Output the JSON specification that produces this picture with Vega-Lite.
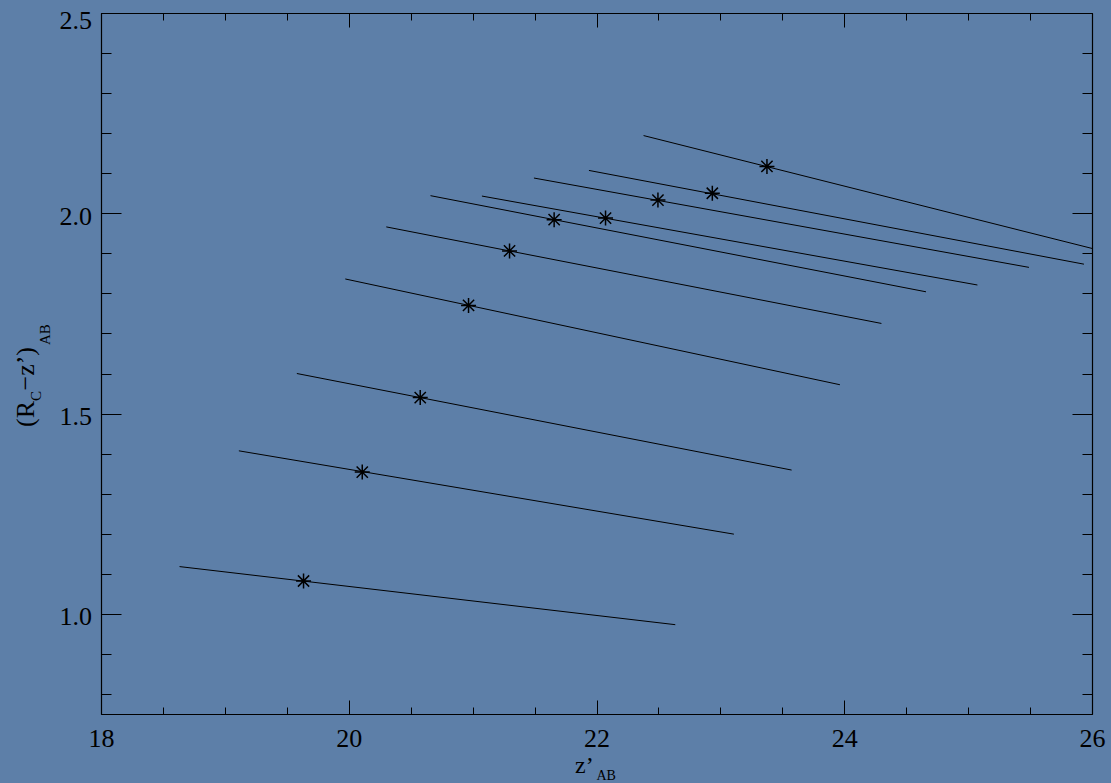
{
  "$schema": "https://vega.github.io/schema/vega-lite/v6.json",
  "autosize": "none",
  "width": 991,
  "height": 701,
  "padding": {"left": 101, "top": 13, "right": 19, "bottom": 69},
  "background": "#5d7fa8",
  "config": {
    "view": {"stroke": null},
    "axis": {
      "grid": false,
      "labelFont": "Liberation Serif",
      "titleFont": "Liberation Serif",
      "labelColor": "black",
      "titleColor": "black",
      "tickColor": "black",
      "domainColor": "black",
      "tickWidth": 1,
      "domainWidth": 1.2,
      "titleFontWeight": "normal"
    }
  },
  "data": {
    "values": [
      {"x0": 22.380, "y0": 2.194, "x1": 26.376, "y1": 1.883, "xs": 23.376, "ys": 2.117},
      {"x0": 21.939, "y0": 2.107, "x1": 25.935, "y1": 1.873, "xs": 22.935, "ys": 2.050},
      {"x0": 21.495, "y0": 2.088, "x1": 25.491, "y1": 1.865, "xs": 22.496, "ys": 2.033},
      {"x0": 21.075, "y0": 2.043, "x1": 25.075, "y1": 1.821, "xs": 22.073, "ys": 1.988},
      {"x0": 20.660, "y0": 2.044, "x1": 24.660, "y1": 1.804, "xs": 21.658, "ys": 1.984},
      {"x0": 20.303, "y0": 1.966, "x1": 24.300, "y1": 1.725, "xs": 21.298, "ys": 1.906},
      {"x0": 19.972, "y0": 1.836, "x1": 23.965, "y1": 1.572, "xs": 20.967, "ys": 1.770},
      {"x0": 19.581, "y0": 1.600, "x1": 23.575, "y1": 1.359, "xs": 20.577, "ys": 1.540},
      {"x0": 19.113, "y0": 1.407, "x1": 23.109, "y1": 1.199, "xs": 20.109, "ys": 1.354},
      {"x0": 18.634, "y0": 1.118, "x1": 22.636, "y1": 0.973, "xs": 19.635, "ys": 1.082}
    ]
  },
  "resolve": {"axis": {"x": "independent", "y": "independent"}},
  "layer": [
    {
      "mark": {"type": "rule", "color": "black", "strokeWidth": 1, "clip": true},
      "encoding": {
        "x": {"field": "x0", "type": "quantitative",
          "scale": {"domain": [18, 26], "nice": false, "zero": false},
          "axis": {"orient": "bottom", "values": [18, 20, 22, 24, 26], "tickSize": -14, "labelPadding": 25.5,
            "labelFontSize": 26, "labelFlush": false, "labelOverlap": false, "domain": true,
            "title": "z’", "titleFontSize": 24, "titleX": 473.5, "titleY": 58.5, "titleAngle": 0,
            "titleAlign": "left", "titleBaseline": "alphabetic"}},
        "x2": {"field": "x1"},
        "y": {"field": "y0", "type": "quantitative",
          "scale": {"domain": [0.75, 2.5], "nice": false, "zero": false},
          "axis": {"orient": "left", "values": [1, 1.5, 2, 2.5], "format": ".1f", "tickSize": -20, "labelPadding": 29.5,
            "labelFontSize": 26, "labelOffset": {"condition": {"test": "datum.value >= 2.4", "value": 7}, "value": 3},
            "labelFlush": false, "labelOverlap": false, "domain": true,
            "title": "(R", "titleFontSize": 26, "titleX": -68, "titleY": 413.5, "titleAngle": -90,
            "titleAlign": "left", "titleBaseline": "alphabetic"}},
        "y2": {"field": "y1"}
      }
    },
    {
      "mark": {"type": "point", "shape": "M0,-1L0,1M-1,0L1,0M-0.75,-0.75L0.75,0.75M-0.75,0.75L0.75,-0.75",
        "size": 225, "filled": false, "stroke": "black", "strokeWidth": 1.5, "opacity": 1},
      "encoding": {
        "x": {"field": "xs", "type": "quantitative",
          "scale": {"domain": [18, 26], "nice": false, "zero": false},
          "axis": {"orient": "bottom", "values": [18, 18.5, 19, 19.5, 20, 20.5, 21, 21.5, 22, 22.5, 23, 23.5, 24, 24.5, 25, 25.5, 26],
            "tickSize": -7, "labels": false, "domain": false,
            "title": "AB", "titleFontSize": 14, "titleX": 495, "titleY": 65, "titleAngle": 0,
            "titleAlign": "left", "titleBaseline": "alphabetic"}},
        "y": {"field": "ys", "type": "quantitative",
          "scale": {"domain": [0.75, 2.5], "nice": false, "zero": false},
          "axis": {"orient": "left", "values": [0.8, 0.9, 1.0, 1.1, 1.2, 1.3, 1.4, 1.5, 1.6, 1.7, 1.8, 1.9, 2.0, 2.1, 2.2, 2.3, 2.4, 2.5],
            "tickSize": -10, "labels": false, "domain": false,
            "title": "C", "titleFontSize": 15, "titleX": -61, "titleY": 387.5, "titleAngle": -90,
            "titleAlign": "left", "titleBaseline": "alphabetic"}}
      }
    },
    {
      "mark": {"type": "point", "opacity": 0},
      "encoding": {
        "x": {"field": "xs", "type": "quantitative",
          "scale": {"domain": [18, 26], "nice": false, "zero": false},
          "axis": {"orient": "top", "values": [18, 20, 22, 24, 26], "tickSize": -14, "labels": false, "domain": true, "title": null}},
        "y": {"field": "ys", "type": "quantitative",
          "scale": {"domain": [0.75, 2.5], "nice": false, "zero": false},
          "axis": {"orient": "right", "values": [1, 1.5, 2, 2.5], "tickSize": -20, "labels": false, "domain": true, "title": null}}
      }
    },
    {
      "mark": {"type": "point", "opacity": 0},
      "encoding": {
        "x": {"field": "xs", "type": "quantitative",
          "scale": {"domain": [18, 26], "nice": false, "zero": false},
          "axis": {"orient": "top", "values": [18, 18.5, 19, 19.5, 20, 20.5, 21, 21.5, 22, 22.5, 23, 23.5, 24, 24.5, 25, 25.5, 26],
            "tickSize": -7, "labels": false, "domain": false, "title": null}},
        "y": {"field": "ys", "type": "quantitative",
          "scale": {"domain": [0.75, 2.5], "nice": false, "zero": false},
          "axis": {"orient": "right", "values": [0.8, 0.9, 1.0, 1.1, 1.2, 1.3, 1.4, 1.5, 1.6, 1.7, 1.8, 1.9, 2.0, 2.1, 2.2, 2.3, 2.4, 2.5],
            "tickSize": -10, "labels": false, "domain": false, "title": null}}
      }
    },
    {
      "mark": {"type": "point", "opacity": 0},
      "encoding": {
        "x": {"field": "xs", "type": "quantitative",
          "scale": {"domain": [18, 26], "nice": false, "zero": false}, "axis": null},
        "y": {"field": "ys", "type": "quantitative",
          "scale": {"domain": [0.75, 2.5], "nice": false, "zero": false},
          "axis": {"orient": "left", "ticks": false, "labels": false, "domain": false,
            "title": "−z’)", "titleFontSize": 26, "titleX": -68, "titleY": 377, "titleAngle": -90,
            "titleAlign": "left", "titleBaseline": "alphabetic"}}
      }
    },
    {
      "mark": {"type": "point", "opacity": 0},
      "encoding": {
        "x": {"field": "xs", "type": "quantitative",
          "scale": {"domain": [18, 26], "nice": false, "zero": false}, "axis": null},
        "y": {"field": "ys", "type": "quantitative",
          "scale": {"domain": [0.75, 2.5], "nice": false, "zero": false},
          "axis": {"orient": "left", "ticks": false, "labels": false, "domain": false,
            "title": "AB", "titleFontSize": 15, "titleX": -51.5, "titleY": 331.5, "titleAngle": -90,
            "titleAlign": "left", "titleBaseline": "alphabetic"}}
      }
    }
  ]
}
